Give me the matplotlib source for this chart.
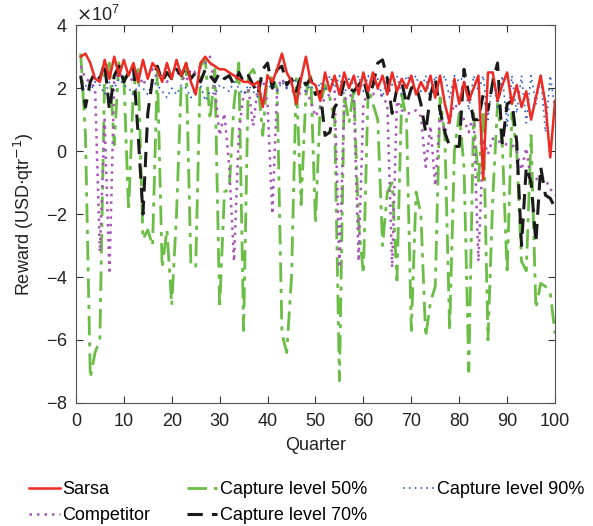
import matplotlib
matplotlib.use('Agg')
import matplotlib.pyplot as plt
import numpy as np
from matplotlib.ticker import ScalarFormatter

plt.rcParams['font.family'] = ['Liberation Sans', 'DejaVu Sans']
plt.rcParams['font.size'] = 13

quarters = np.arange(1, 101)

# values in units of 1e7 USD per quarter
sarsa = [3.0, 3.1, 2.8, 2.3, 2.2, 2.9, 2.3, 3.0, 2.4, 2.9,
         2.4, 2.8, 2.2, 2.9, 2.3, 2.8, 2.6, 2.2, 2.8, 2.3,
         2.9, 2.4, 2.8, 2.2, 1.8, 2.8, 3.0, 2.8, 2.7, 2.6,
         2.6, 2.5, 2.4, 2.3, 2.2, 2.2, 2.1, 2.2, 1.4, 2.4,
         2.2, 2.6, 3.1, 2.5, 2.2, 1.5, 2.3, 3.0, 2.2, 2.1,
         1.6, 2.5, 1.9, 2.4, 1.8, 2.5, 2.0, 2.4, 1.8, 2.5,
         1.9, 2.5, 2.0, 2.4, 1.8, 2.5, 1.9, 2.3, 2.0, 2.4,
         1.8, 2.2, 1.9, 2.4, 1.7, 2.4, 1.5, 0.9, 2.3, 1.5,
         2.2, 1.6, 2.0, 2.4, -0.9, 2.5, 2.5, 1.6, 2.1, 2.5,
         1.5, 2.1, 1.4, 1.9, 1.0, 1.7, 2.4, 1.5, -0.2, 1.6]

competitor = [2.7, 2.3, 2.2, 2.0, -3.2, 1.0, -3.9, 2.2, 2.5, 2.3,
              2.4, 2.2, 2.5, 2.1, 2.4, 2.6, 2.3, 2.5, 2.2, 2.4,
              2.5, 2.4, 2.2, 2.6, 2.5, 2.7, 2.8, 3.0, 2.0, 0.5,
              1.2, -0.5, -3.5, 0.6, 1.8, 2.0, 0.8, 2.1, 2.3, 1.5,
              -2.0, 2.0, 2.3, 2.0, 1.9, 1.9, 1.8, 1.9, 1.6, 1.1,
              1.4, 1.7, 1.8, 1.9, -3.7, 1.6, 1.8, 1.7, -3.5, 1.5,
              1.9, 1.8, 2.0, 1.7, 1.5, -3.7, 1.6, 1.3, 1.2, 1.2,
              1.3, 1.1, -0.5, 0.8, -1.1, 1.2, 0.6, 1.0, 1.5, 1.3,
              1.0, 0.6, 1.2, -3.5, 0.4, -0.1, 0.4, 0.3, 0.3, 0.2,
              0.2, 0.0, -0.6, 0.1, -1.0, -0.9, -0.8, -0.9, -1.2, -1.4]

cap50 = [3.1, 0.5, -7.2, -6.4, -6.0, 2.5, 2.8, 0.2, 2.9, 2.4,
         -1.9, 2.0, 2.6, -2.8, -2.5, -3.0, 2.6, -3.7, -2.5, -4.9,
         -2.0, 2.2, 2.8, -3.6, -3.7, 2.7, 2.9, 1.0, 2.6, -5.0,
         -1.3, -1.2, 1.5, 2.8, -5.7, 2.4, 2.6, 2.2, 0.5, 2.5,
         2.3, 2.0, -5.8, -6.4, -4.0, 2.3, -1.7, 1.8, 2.5, -2.3,
         1.5, 2.1, 1.7, 1.0, -7.3, 1.8, 0.9, 2.0, -2.3, -3.9,
         2.0, 1.5, 1.0, -3.0, -1.3, -1.0, -4.1, 1.8, 1.0, -5.7,
         -1.3, -2.0, -5.9, -4.8, -4.3, 1.7, 0.5, -5.7, 0.0, 1.2,
         -0.5, -7.0, 1.2, -1.0, 1.3, -6.0, -1.5, 1.5, 0.2, -3.9,
         1.2, 0.0, -3.5, -3.8, 0.5, -5.0, -4.2, -4.3, -4.5, -5.8]

cap70 = [2.4, 1.4, 2.2, 2.5, 2.3, 2.8, 1.3, 2.4, 2.7, 2.2,
         2.5, 2.7, 0.5, -2.0, 1.2, 2.3, 2.7, 2.2, 2.5, 2.3,
         2.6, 2.4, 2.7, 2.3, 2.5, 2.2, 2.6, 2.4, 2.2, 2.5,
         2.3, 2.4, 2.1, 2.5, 2.2, 2.4, 2.1, 1.8, 2.6, 2.8,
         2.0, 2.6, 2.7, 2.1, 2.3, 1.9, 2.4, 2.1, 2.3, 1.8,
         1.9, 0.5, 0.6, 1.4, 1.6, 2.2, 2.0, 1.9, 2.1, 2.3,
         1.7, 2.1, 2.8, 2.9, 2.3, 1.2, 2.0, 2.2, 1.5, 2.0,
         2.1, 1.5, 0.6, 1.8, 2.3, 1.3, 0.6, 0.15, 0.15, 0.15,
         2.6, 1.8, 1.0, 1.0, 1.8, 1.3, 2.2, 2.8, 0.2, 1.5,
         1.6, 0.3, -3.0, -0.5, -1.0, -2.9, -0.5, -1.4, -1.5, -1.8]

cap90 = [2.0, 2.1, 1.9, 2.2, 2.1, 1.8, 2.2, 2.0, 2.3, 2.1,
         2.0, 1.8, 2.1, 2.0, 1.8, 2.2, 2.1, 1.9, 1.7, 2.0,
         1.8, 2.1, 2.0, 1.7, 2.0, 2.1, 1.6, 1.9, 1.8, 2.1,
         2.0, 1.9, 2.2, 2.0, 1.8, 2.1, 1.9, 1.7, 1.9, 2.0,
         2.1, 1.9, 2.2, 2.0, 2.1, 2.3, 2.0, 1.9, 2.1, 1.8,
         2.2, 1.9, 2.4, 2.0, 2.4, 1.8, 2.3, 2.1, 2.4, 1.9,
         2.4, 2.0, 2.3, 1.7, 2.4, 2.1, 2.4, 1.8, 2.4, 2.2,
         2.4, 1.9, 2.4, 1.6, 2.4, 2.1, 2.4, 1.7, 2.4, 2.2,
         2.4, 1.3, 2.4, 1.9, 2.4, 1.0, 2.4, 1.4, 2.4, 0.8,
         2.4, 1.2, 2.4, 0.9, 2.4, 1.5, 2.4, 0.6, 2.4, 1.3]

scale = 1e7

fig = plt.figure(figsize=(5.93, 5.26), dpi=100)
ax = fig.add_axes([0.128, 0.234, 0.808, 0.718])

l_cap50, = ax.plot(quarters, np.array(cap50) * scale, color='#6abd45', lw=2.0,
                   dashes=(7, 2.5, 1.5, 2.5), label='Capture level 50%', zorder=2)
l_comp, = ax.plot(quarters, np.array(competitor) * scale, color='#a855b8', lw=1.8,
                  dashes=(1, 2), label='Competitor', zorder=3)
l_cap90, = ax.plot(quarters, np.array(cap90) * scale, color='#2a5cc4', lw=1.2,
                   dashes=(1, 2.5), label='Capture level 90%', zorder=4)
l_cap70, = ax.plot(quarters, np.array(cap70) * scale, color='#1a1a1a', lw=2.2,
                   dashes=(5, 3), label='Capture level 70%', zorder=4)
l_sarsa, = ax.plot(quarters, np.array(sarsa) * scale, color='#ee2a24', lw=1.8,
                   label='Sarsa', zorder=5)

ax.set_xlim(0, 100)
ax.set_ylim(-8e7, 4e7)
ax.set_xticks(np.arange(0, 101, 10))
ax.set_yticks(np.arange(-8, 5, 2) * scale)
fmt = ScalarFormatter(useMathText=True)
fmt.set_powerlimits((0, 0))
ax.yaxis.set_major_formatter(fmt)
ax.tick_params(direction='in', top=True, right=True, length=5, colors='#333333',
               labelcolor='#222222', labelsize=13)
ax.tick_params(axis='x', pad=7)
ax.tick_params(axis='y', pad=6)
for s in ax.spines.values():
    s.set_color('#555555')
ax.set_xlabel('Quarter', fontsize=13, color='#222222', labelpad=5)
ax.set_ylabel('Reward (USD$\\cdot$qtr$^{-1}$)', fontsize=13, color='#222222',
              labelpad=7)

fig.legend(handles=[l_sarsa, l_comp, l_cap50, l_cap70, l_cap90],
           loc='lower center', bbox_to_anchor=(0.517, -0.027), ncol=3, frameon=False,
           fontsize=13, handlelength=1.7, handletextpad=0.15, columnspacing=2.0,
           labelspacing=0.5)

fig.savefig('out.png', dpi=100)
